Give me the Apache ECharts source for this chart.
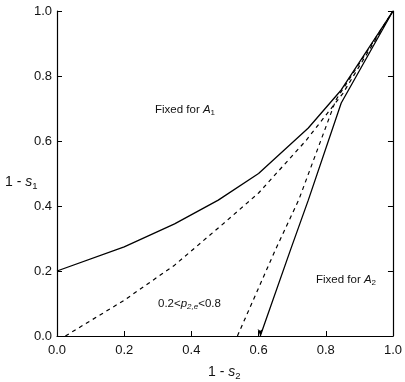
<!DOCTYPE html>
<html>
<head>
<meta charset="utf-8">
<script src="https://cdn.jsdelivr.net/npm/echarts@6/dist/echarts.min.js"></script>
<style>html,body{margin:0;padding:0;background:#fff}#c{width:405px;height:382px}</style>
</head>
<body>
<div id="c"></div>
<script>
// Upper solid boundary (fixed for A1)
const solidUpperX = [0, 0.2, 0.35, 0.48, 0.6, 0.748, 0.846, 1.0];
const solidUpperY = [0.2, 0.274, 0.345, 0.418, 0.5, 0.64, 0.757, 1.0];
// Upper dashed
const dashUpperX = [0.025, 0.2, 0.35, 0.5, 0.6, 0.74, 0.85, 1.0];
const dashUpperY = [0, 0.11, 0.218, 0.35, 0.44, 0.6, 0.745, 1.0];
// Lower dashed
const dashLowerX = [0.537, 0.65, 0.72, 0.83, 1.0];
const dashLowerY = [0, 0.265, 0.42, 0.726, 1.0];
// Lower solid boundary (fixed for A2)
const solidLowerX = [0.605, 0.695, 0.748, 0.846, 1.0];
const solidLowerY = [0, 0.265, 0.418, 0.717, 1.0];
const tickLabels = ['0.0', '0.2', '0.4', '0.6', '0.8', '1.0'];

function pts(xs, ys) { return xs.map((x, i) => [x, ys[i]]); }

const FONT = 'Liberation Sans, Arial, sans-serif';
const chart = echarts.init(document.getElementById('c'), null, {renderer: 'canvas'});
const lowerSolidData = pts(solidLowerX, solidLowerY).map((p, i) => i === 0
  ? {value: p, symbol: 'arrow', symbolSize: [4, 7], symbolRotate: 180, itemStyle: {color: '#000'}}
  : {value: p, symbol: 'none'});

const axisCommon = {
  type: 'value', min: 0, max: 1, interval: 0.2,
  axisLine: {show: true, lineStyle: {color: '#000', width: 1.2}},
  axisTick: {show: true, inside: true, length: 5, lineStyle: {color: '#000'}},
  splitLine: {show: false},
  axisLabel: {color: '#111', fontFamily: FONT, fontSize: 13,
    formatter: v => tickLabels[Math.round(v * 5)]}
};

function rich(sz, sub) {
  return {n: {fontFamily: FONT, fontSize: sz}, i: {fontFamily: FONT, fontSize: sz, fontStyle: 'italic'},
          s: {fontFamily: FONT, fontSize: sub, padding: [Math.round(sz * 0.55), 0, 0, 0]},
          si: {fontFamily: FONT, fontSize: sub, fontStyle: 'italic', padding: [Math.round(sz * 0.55), 0, 0, 0]}};
}

chart.setOption({
  animation: false,
  backgroundColor: '#fff',
  grid: {left: 57, right: 10, top: 11, bottom: 46},
  xAxis: Object.assign({}, axisCommon, {axisLabel: Object.assign({}, axisCommon.axisLabel, {margin: 8})}),
  yAxis: [
    Object.assign({}, axisCommon, {position: 'left', axisLabel: Object.assign({}, axisCommon.axisLabel, {margin: 5})}),
    Object.assign({}, axisCommon, {position: 'right', axisLabel: {show: false}})
  ],
  series: [
    {type: 'line', data: pts(solidUpperX, solidUpperY), showSymbol: false, symbol: 'none',
     lineStyle: {color: '#000', width: 1.3}},
    {type: 'line', data: pts(dashUpperX, dashUpperY), showSymbol: false, symbol: 'none',
     lineStyle: {color: '#000', width: 1.2, type: [4, 4]}},
    {type: 'line', data: pts(dashLowerX, dashLowerY), showSymbol: false, symbol: 'none',
     lineStyle: {color: '#000', width: 1.2, type: [4, 4]}},
    {type: 'line', data: lowerSolidData, showSymbol: true,
     lineStyle: {color: '#000', width: 1.3}}
  ],
  graphic: [
    {type: 'text', left: 155, top: 104, style: {
      text: '{n|Fixed for }{i|A}{s|1}', fill: '#111', rich: rich(11.5, 8)}},
    {type: 'text', left: 316, top: 274, style: {
      text: '{n|Fixed for }{i|A}{s|2}', fill: '#111', rich: rich(11.5, 8)}},
    {type: 'text', left: 158, top: 298, style: {
      text: '{n|0.2<}{i|p}{si|2,e}{n|<0.8}', fill: '#111', rich: rich(11.5, 8)}},
    {type: 'text', left: 208, top: 365, style: {
      text: '{n|1 - }{i|s}{s|2}', fill: '#111', rich: rich(14, 9.5)}},
    {type: 'text', left: 5, top: 175, style: {
      text: '{n|1 - }{i|s}{s|1}', fill: '#111', rich: rich(14, 9.5)}}
  ]
});
</script>
</body>
</html>
